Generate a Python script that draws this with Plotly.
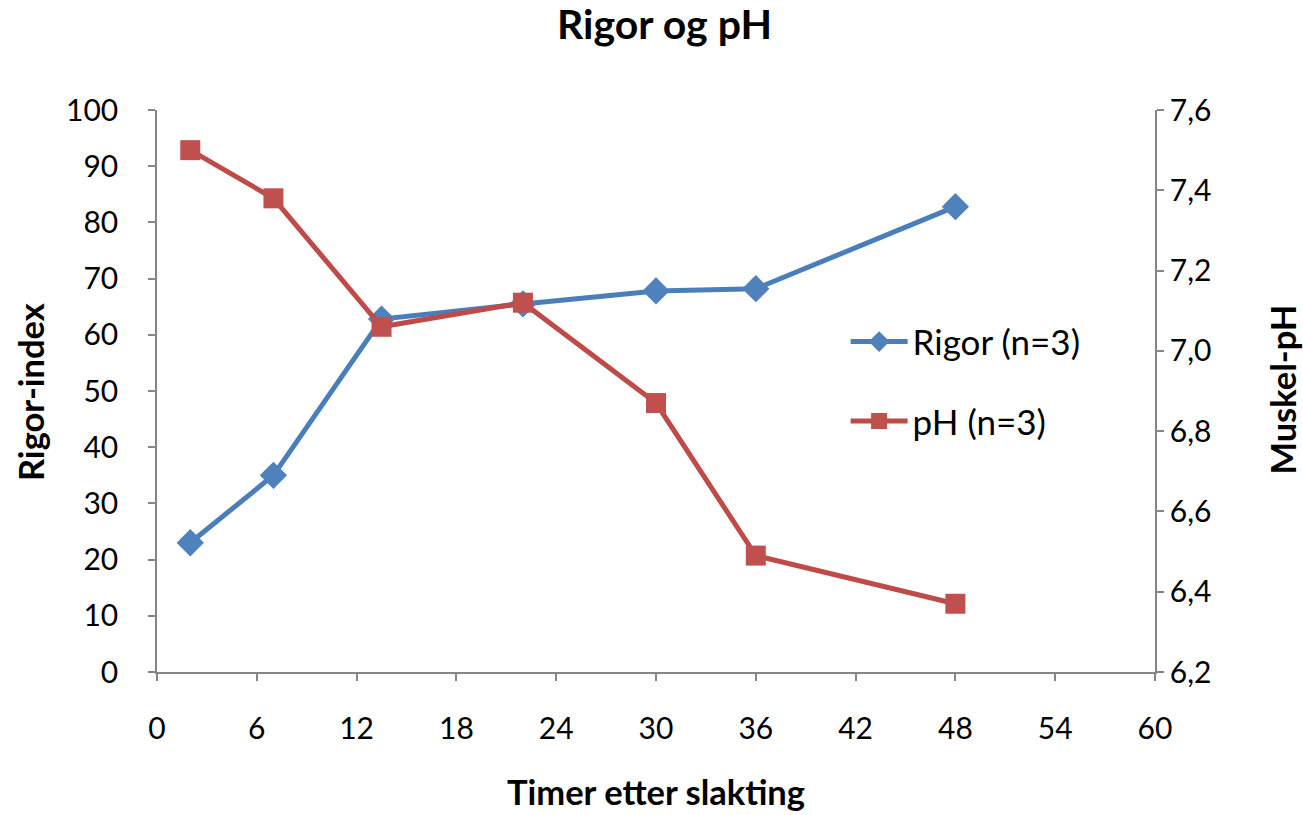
import plotly.graph_objects as go

hours = [2, 7, 13.5, 22, 30, 36, 48]
rigor = [23.0, 35.0, 62.8, 65.5, 67.8, 68.2, 82.8]
ph = [7.50, 7.38, 7.06, 7.12, 6.87, 6.49, 6.37]

x_ticks = list(range(0, 61, 6))
y_ticks = list(range(0, 101, 10))
y2_ticks = [6.2, 6.4, 6.6, 6.8, 7.0, 7.2, 7.4, 7.6]

FONT = "Lato"
AXIS_COLOR = "#868686"

fig = go.Figure()
fig.add_trace(go.Scatter(
    x=hours, y=rigor, name="Rigor (n=3)", mode="lines+markers",
    line=dict(color="#4A7EBB", width=5),
    marker=dict(symbol="diamond", size=21, color="#4F81BD"),
    legendgroup="a", yaxis="y",
))
fig.add_trace(go.Scatter(
    x=hours, y=ph, name="pH (n=3)", mode="lines+markers",
    line=dict(color="#BE4B48", width=5),
    marker=dict(symbol="square", size=20, color="#C0504D"),
    legendgroup="b", yaxis="y2",
))

axis_common = dict(
    showgrid=False, zeroline=False, showline=True, linecolor=AXIS_COLOR,
    linewidth=1.5, ticks="outside", tickcolor=AXIS_COLOR, ticklen=7, tickwidth=1.5,
    tickfont=dict(family=FONT, size=30, color="black"),
)

title_font = dict(family=FONT, size=34.5, color="black")

fig.update_layout(
    width=1303, height=815,
    paper_bgcolor="white", plot_bgcolor="white",
    separators=", ",
    margin=dict(l=157, r=148, t=110, b=143),
    title=dict(text="<b>Rigor og pH</b>", x=0.510, xref="container", xanchor="center",
               y=0.9693, yref="container", yanchor="middle",
               font=dict(family=FONT, size=41, color="black")),
    xaxis=dict(range=[0, 60], tickvals=x_ticks, ticklabelstandoff=22, **axis_common),
    yaxis=dict(range=[0, 100], tickvals=y_ticks, ticklabelstandoff=24, **axis_common),
    yaxis2=dict(range=[6.2, 7.6], tickvals=y2_ticks, tickformat=".1f", overlaying="y",
                side="right", ticklabelstandoff=0, **axis_common),
    legend=dict(x=0.69, y=0.64, xanchor="left", yanchor="top",
                font=dict(family=FONT, size=35, color="black"),
                bgcolor="rgba(0,0,0,0)", tracegroupgap=31, traceorder="grouped",
                itemwidth=57),
    annotations=[
        dict(text="<b>Timer etter slakting</b>", xref="paper", yref="paper",
             x=0.5, y=-0.2135, xanchor="center", yanchor="middle", showarrow=False,
             font=title_font),
        dict(text="<b>Rigor-index</b>", xref="paper", yref="paper",
             x=-0.1273, y=0.498, xanchor="center", yanchor="middle", showarrow=False,
             textangle=-90, font=title_font),
        dict(text="<b>Muskel-pH</b>", xref="paper", yref="paper",
             x=1.128, y=0.502, xanchor="center", yanchor="middle", showarrow=False,
             textangle=-90, font=title_font),
    ],
)

fig.write_html("out.html", config={"displayModeBar": False},
               post_script="document.body.style.margin='0';")
